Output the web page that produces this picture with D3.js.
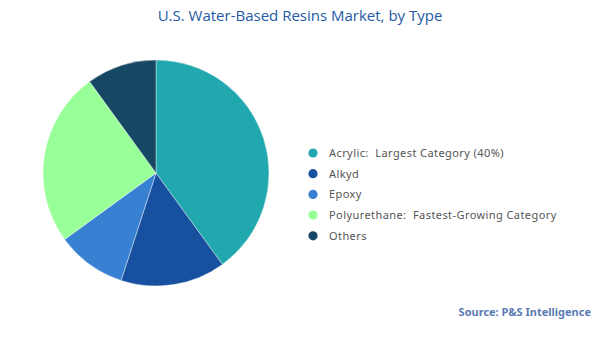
<!DOCTYPE html>
<html>
<head>
<meta charset="utf-8">
<script src="https://cdn.jsdelivr.net/npm/d3@7"></script>
<style>
  html, body { margin: 0; padding: 0; background: #fff; }
  svg { display: block; }
  .legend-label { white-space: pre; }
</style>
</head>
<body>
<svg id="chart" width="600" height="337"></svg>
<script>
const categories = ["Acrylic", "Alkyd", "Epoxy", "Polyurethane", "Others"];
const shares = [40, 15, 10, 25, 10];
const legendLabels = [
  "Acrylic:  Largest Category (40%)",
  "Alkyd",
  "Epoxy",
  "Polyurethane:  Fastest-Growing Category",
  "Others"
];
const colors = ["#21a8ae", "#16509e", "#3780d2", "#99ff99", "#164863"];

const svg = d3.select("#chart");

// Title
svg.append("text")
  .attr("x", 300).attr("y", 21)
  .attr("text-anchor", "middle")
  .attr("font-family", "'Open Sans', sans-serif")
  .attr("font-size", 15)
  .attr("fill", "#2459a6")
  .text("U.S. Water-Based Resins Market, by Type");

// Pie
const color = d3.scaleOrdinal().domain(categories).range(colors);
const pie = d3.pie().sort(null).value(d => d.value);
const arc = d3.arc().innerRadius(0).outerRadius(113);
const data = categories.map((c, i) => ({ name: c, value: shares[i] }));

svg.append("g")
  .attr("transform", "translate(156,173)")
  .selectAll("path")
  .data(pie(data))
  .join("path")
  .attr("d", arc)
  .attr("fill", d => color(d.data.name))
  .attr("stroke", "#ffffff")
  .attr("stroke-width", 0.4);

// Legend
const legend = svg.append("g").attr("transform", "translate(313,153)");
const rows = legend.selectAll("g")
  .data(categories)
  .join("g")
  .attr("transform", (d, i) => `translate(0,${i * 20.7})`);
rows.append("circle")
  .attr("r", 4.6)
  .attr("fill", d => color(d));
rows.append("text")
  .attr("class", "legend-label")
  .attr("x", 16).attr("y", 4)
  .attr("font-family", "'Noto Sans', sans-serif")
  .attr("font-size", 11)
  .attr("letter-spacing", 0.42)
  .attr("fill", "#555555")
  .text((d, i) => legendLabels[i]);

// Source
svg.append("text")
  .attr("x", 591).attr("y", 316)
  .attr("text-anchor", "end")
  .attr("font-family", "'Noto Sans', sans-serif")
  .attr("font-weight", "bold")
  .attr("font-size", 11)
  .attr("fill", "#5a7bb4")
  .text("Source: P&S Intelligence");
</script>
</body>
</html>
